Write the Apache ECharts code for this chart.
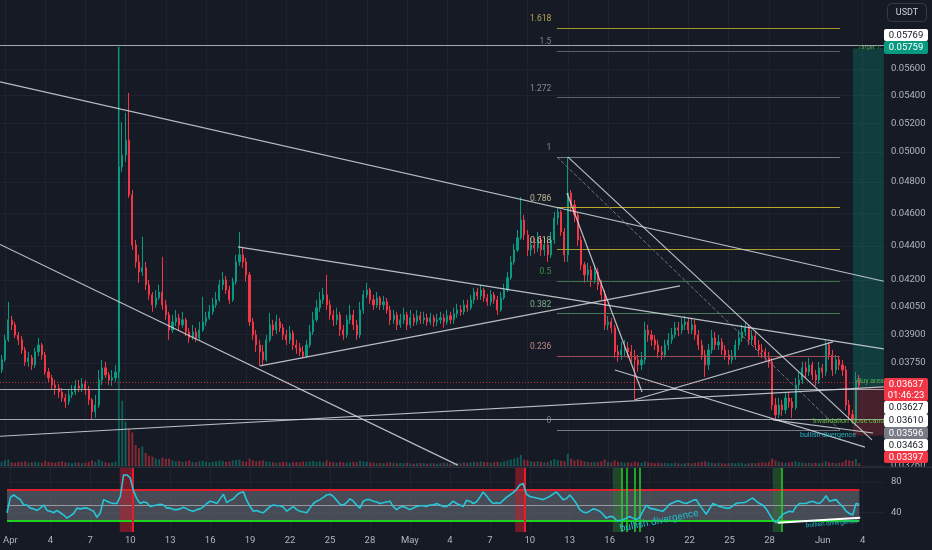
<!DOCTYPE html>
<html><head><meta charset="utf-8">
<script src="https://cdn.jsdelivr.net/npm/echarts@6/dist/echarts.min.js"></script>
<style>html,body{margin:0;padding:0;background:#161a25;}#c{width:932px;height:550px;}</style>
</head><body><div id="c"></div>
<script>
// ---------------- DATA ----------------
const startTime = '2024-03-31T18:00:00Z';   // first 6h candle
const barHours = 6;
const firstOpen = 0.03714;
const closes = [
0.03766,0.03870,0.03977,0.03950,0.03896,0.03870,0.03817,0.03756,0.03776,0.03740,
0.03807,0.03843,0.03791,0.03704,0.03674,0.03639,0.03624,0.03604,0.03575,0.03556,
0.03590,0.03604,0.03634,0.03624,0.03644,0.03614,0.03566,0.03508,0.03541,0.03664,
0.03725,0.03689,0.03664,0.03674,0.03704,0.04899,0.04980,0.05082,0.04716,0.04405,
0.04304,0.04246,0.04270,0.04172,0.04115,0.04059,0.04098,0.04131,0.04059,0.04004,
0.03922,0.03966,0.03988,0.03950,0.03977,0.03912,0.03880,0.03912,0.03880,0.03922,
0.03966,0.03988,0.04021,0.04059,0.04087,0.04172,0.04200,0.04142,0.04087,0.04189,
0.04304,0.04346,0.04304,0.04229,0.03966,0.03896,0.03843,0.03807,0.03766,0.03870,
0.03950,0.03922,0.03966,0.03934,0.03896,0.03870,0.03906,0.03843,0.03828,0.03807,
0.03786,0.03843,0.03912,0.03977,0.04043,0.04087,0.04115,0.04059,0.04004,0.03977,
0.04004,0.03922,0.03896,0.03977,0.04004,0.03950,0.03896,0.04031,0.04115,0.04142,
0.04087,0.04059,0.04098,0.04059,0.04076,0.04031,0.03977,0.04004,0.03950,0.03977,
0.04004,0.03950,0.03988,0.03966,0.03999,0.03977,0.03988,0.03966,0.03988,0.03966,
0.03977,0.03988,0.03966,0.03999,0.03977,0.04010,0.04031,0.04021,0.04059,0.04043,
0.04087,0.04131,0.04109,0.04142,0.04098,0.04076,0.04115,0.04087,0.04031,0.04098,
0.04142,0.04212,0.04304,0.04375,0.04448,0.04558,0.04466,0.04375,0.04405,0.04387,
0.04435,0.04375,0.04405,0.04346,0.04435,0.04570,0.04608,0.04484,0.04346,0.04729,
0.04652,0.04589,0.04435,0.04287,0.04229,0.04257,0.04200,0.04246,0.04172,0.04115,
0.03950,0.03966,0.03934,0.03807,0.03791,0.03817,0.03828,0.03807,0.03786,0.03766,
0.03740,0.03766,0.03922,0.03896,0.03870,0.03843,0.03807,0.03791,0.03843,0.03870,
0.03896,0.03934,0.03922,0.03950,0.03966,0.03922,0.03950,0.03896,0.03843,0.03791,
0.03740,0.03817,0.03880,0.03843,0.03859,0.03817,0.03791,0.03766,0.03786,0.03843,
0.03880,0.03912,0.03934,0.03870,0.03890,0.03843,0.03817,0.03807,0.03776,0.03756,
0.03541,0.03494,0.03541,0.03517,0.03575,0.03556,0.03527,0.03639,0.03664,0.03725,
0.03704,0.03740,0.03689,0.03664,0.03725,0.03704,0.03843,0.03791,0.03714,0.03766,
0.03740,0.03714,0.03541,0.03494,0.03470,0.03664,0.03637
];
const highs = [
0.03791,0.03896,0.04076,0.03999,0.03966,0.03912,0.03890,0.03833,0.03807,0.03791,
0.03828,0.03880,0.03854,0.03807,0.03725,0.03689,0.03664,0.03644,0.03624,0.03595,
0.03614,0.03639,0.03664,0.03664,0.03674,0.03664,0.03634,0.03575,0.03590,0.03714,
0.03766,0.03756,0.03704,0.03714,0.03740,0.05769,0.05209,0.05274,0.05420,0.04748,
0.04435,0.04346,0.04454,0.04304,0.04200,0.04131,0.04142,0.04172,0.04334,0.04087,
0.04021,0.04004,0.04031,0.04010,0.04021,0.03988,0.03934,0.03950,0.03934,0.03966,
0.04104,0.04021,0.04059,0.04098,0.04131,0.04200,0.04246,0.04223,0.04166,0.04212,
0.04346,0.04484,0.04387,0.04328,0.04246,0.03988,0.03922,0.03870,0.03843,0.03896,
0.04015,0.03977,0.04004,0.03988,0.03955,0.03922,0.03944,0.03922,0.03870,0.03854,
0.03838,0.03870,0.03950,0.04021,0.04087,0.04131,0.04155,0.04229,0.04087,0.04031,
0.04043,0.04021,0.03950,0.04004,0.04059,0.04031,0.03977,0.04076,0.04142,0.04183,
0.04155,0.04115,0.04131,0.04109,0.04109,0.04098,0.04054,0.04031,0.04021,0.04010,
0.04043,0.04021,0.04031,0.04010,0.04031,0.04021,0.04021,0.04010,0.04015,0.04004,
0.04010,0.04021,0.04010,0.04031,0.04021,0.04043,0.04065,0.04059,0.04087,0.04087,
0.04115,0.04155,0.04155,0.04172,0.04155,0.04120,0.04142,0.04131,0.04109,0.04131,
0.04178,0.04246,0.04340,0.04411,0.04496,0.04703,0.04589,0.04496,0.04448,0.04448,
0.04484,0.04460,0.04448,0.04435,0.04484,0.04608,0.04640,0.04620,0.04508,0.04967,
0.04748,0.04684,0.04608,0.04460,0.04304,0.04299,0.04281,0.04287,0.04270,0.04200,
0.04142,0.03999,0.03988,0.03950,0.03843,0.03859,0.03870,0.03859,0.03843,0.03817,
0.03791,0.03807,0.03966,0.03950,0.03922,0.03896,0.03870,0.03838,0.03870,0.03906,
0.03934,0.03966,0.03966,0.03988,0.03999,0.03988,0.03988,0.03977,0.03922,0.03870,
0.03817,0.03849,0.03922,0.03912,0.03896,0.03880,0.03843,0.03817,0.03817,0.03870,
0.03922,0.03950,0.03966,0.03950,0.03922,0.03912,0.03870,0.03849,0.03828,0.03807,
0.03776,0.03575,0.03575,0.03566,0.03604,0.03604,0.03575,0.03674,0.03704,0.03756,
0.03756,0.03776,0.03756,0.03714,0.03756,0.03745,0.03870,0.03859,0.03817,0.03791,
0.03786,0.03766,0.03735,0.03566,0.03517,0.03704,0.03689
];
const lows = [
0.03699,0.03756,0.03859,0.03922,0.03880,0.03843,0.03797,0.03735,0.03730,0.03714,
0.03725,0.03786,0.03766,0.03689,0.03654,0.03614,0.03590,0.03575,0.03556,0.03527,
0.03541,0.03575,0.03590,0.03604,0.03604,0.03590,0.03541,0.03470,0.03479,0.03527,
0.03639,0.03674,0.03639,0.03634,0.03654,0.03674,0.04866,0.04933,0.04697,0.04375,
0.04270,0.04183,0.04223,0.04142,0.04087,0.04021,0.04043,0.04087,0.04031,0.03977,
0.03870,0.03906,0.03944,0.03922,0.03934,0.03890,0.03854,0.03870,0.03859,0.03870,
0.03912,0.03944,0.03977,0.04004,0.04043,0.04076,0.04142,0.04120,0.04065,0.04076,
0.04172,0.04281,0.04270,0.04189,0.03944,0.03870,0.03807,0.03735,0.03740,0.03756,
0.03859,0.03890,0.03901,0.03912,0.03870,0.03843,0.03849,0.03817,0.03797,0.03786,
0.03776,0.03776,0.03828,0.03896,0.03966,0.04021,0.04065,0.04031,0.03977,0.03944,
0.03950,0.03890,0.03870,0.03880,0.03955,0.03922,0.03870,0.03880,0.04010,0.04098,
0.04065,0.04031,0.04043,0.04031,0.04031,0.04010,0.03950,0.03955,0.03922,0.03934,
0.03955,0.03922,0.03934,0.03944,0.03950,0.03955,0.03955,0.03944,0.03950,0.03939,
0.03944,0.03955,0.03934,0.03950,0.03955,0.03955,0.03988,0.03999,0.04004,0.04021,
0.04031,0.04065,0.04087,0.04087,0.04076,0.04054,0.04054,0.04065,0.04004,0.04021,
0.04087,0.04131,0.04200,0.04287,0.04363,0.04435,0.04435,0.04340,0.04340,0.04352,
0.04363,0.04340,0.04340,0.04304,0.04328,0.04411,0.04527,0.04460,0.04304,0.04304,
0.04608,0.04545,0.04399,0.04257,0.04183,0.04189,0.04160,0.04178,0.04142,0.04087,
0.03922,0.03922,0.03906,0.03776,0.03756,0.03766,0.03786,0.03776,0.03756,0.03566,
0.03704,0.03714,0.03745,0.03859,0.03838,0.03817,0.03776,0.03766,0.03776,0.03817,
0.03849,0.03880,0.03890,0.03901,0.03922,0.03901,0.03901,0.03870,0.03817,0.03766,
0.03679,0.03714,0.03797,0.03817,0.03817,0.03791,0.03766,0.03740,0.03745,0.03766,
0.03817,0.03859,0.03890,0.03843,0.03843,0.03817,0.03786,0.03776,0.03756,0.03725,
0.03517,0.03470,0.03479,0.03489,0.03498,0.03527,0.03479,0.03517,0.03614,0.03644,
0.03674,0.03684,0.03664,0.03634,0.03644,0.03674,0.03684,0.03766,0.03684,0.03694,
0.03714,0.03684,0.03517,0.03470,0.03451,0.03441,0.03624
];
const volumes = [
9,12,14,8,7,9,8,10,7,8,
9,8,7,11,9,8,7,9,10,8,
7,6,8,7,6,7,9,12,9,14,
10,8,7,8,10,900,140,95,80,72,
45,38,42,28,22,20,16,14,18,15,
16,12,10,11,9,10,12,9,8,10,
11,9,8,9,10,12,11,9,10,12,
13,14,10,9,16,12,10,11,12,10,
9,8,7,8,9,8,7,8,9,8,
10,9,10,11,9,10,8,12,9,8,
7,9,8,7,8,9,8,11,10,9,
8,7,6,7,6,7,8,7,6,7,
6,7,6,5,6,7,6,5,6,6,
5,6,7,6,5,6,7,6,8,7,
8,9,8,10,9,8,7,8,9,8,
10,12,14,16,18,24,14,12,10,9,
10,9,8,9,12,15,13,11,10,26,
16,12,14,12,10,9,8,9,8,10,
14,9,8,12,9,8,7,8,7,10,
8,7,10,8,7,6,7,6,7,6,
6,7,6,5,6,7,6,7,8,9,
10,8,7,6,7,6,5,6,7,6,
7,6,5,6,7,6,7,8,7,9,
16,12,9,8,7,8,9,10,8,7,
6,7,6,7,6,7,10,8,7,6,
7,8,13,12,11,15,6
];
const rsi = [
40,60,63,60,57,50,50,46,45,43,
46,50,43,42,40,43,40,37,33,36,
39,46,45,46,46,44,42,34,40,57,
55,53,52,52,61,89,89,85,68,58,
52,54,53,48,49,50,51,50,46,46,
44,44,45,47,45,43,42,44,45,48,
52,55,54,52,58,64,53,56,58,63,
66,67,56,48,42,43,41,40,44,48,
50,49,49,47,42,45,48,44,42,41,
40,46,52,55,57,60,63,64,61,56,
51,50,53,58,55,50,46,55,57,57,
55,54,52,53,54,55,48,44,47,48,
46,44,46,48,49,49,48,50,50,52,
50,48,48,51,55,52,50,48,56,55,
52,54,60,67,62,56,52,53,52,56,
60,63,66,70,76,78,64,61,60,59,
58,57,59,61,64,67,62,57,58,63,
58,52,44,41,40,42,45,44,42,38,
33,35,35,30,30,31,33,35,33,31,
34,42,50,46,45,44,43,42,46,51,
53,55,55,53,52,54,56,57,50,44,
38,45,52,50,48,47,46,46,49,52,
53,53,54,57,59,55,52,50,45,38,
31,27,33,38,40,42,41,48,52,52,
52,54,55,53,52,56,62,55,56,57,
52,48,42,39,37,52,51
];
const xTickDates = ['2024-04-01','2024-04-04','2024-04-07','2024-04-10','2024-04-13','2024-04-16','2024-04-19','2024-04-22','2024-04-25','2024-04-28',
  '2024-05-01','2024-05-04','2024-05-07','2024-05-10','2024-05-13','2024-05-16','2024-05-19','2024-05-22','2024-05-25','2024-05-28','2024-06-01','2024-06-04'];
const yTickPrices = [0.056,0.054,0.052,0.050,0.048,0.046,0.044,0.042,0.0405,0.039,0.0375,0.0326];
const rsiTicks = [80,40];
const rsiLevels = [70,50,30];

// Fibonacci retracement
const fibRatios = [0,0.236,0.382,0.5,0.618,0.786,1,1.272,1.5,1.618];
const fibTexts = ['0','0.236','0.382','0.5','0.618','0.786','1','1.272','1.5','1.618'];
const fibLow = 0.03422, fibHigh = 0.04967;
const fibFrom = '2024-05-12T04:30:00Z', fibTo = '2024-06-02T07:30:00Z';

// Trend lines: [time1, price1, time2, price2]
const trendLines = [
  ['2024-03-31T15:10:00Z',0.05502,'2024-06-05T14:00:00Z',0.04192],
  ['2024-03-31T15:10:00Z',0.04408,'2024-05-04T19:00:00Z',0.03262],
  ['2024-03-31T15:10:00Z',0.03393,'2024-06-05T14:00:00Z',0.03629],
  ['2024-04-18T09:20:00Z',0.04393,'2024-06-05T14:00:00Z',0.03823],
  ['2024-04-20T00:45:00Z',0.03735,'2024-05-21T09:00:00Z',0.04166],
  ['2024-05-13T00:00:00Z',0.04967,'2024-06-04T16:50:00Z',0.03376],
  ['2024-05-12T22:30:00Z',0.04729,'2024-05-18T13:00:00Z',0.03604],
  ['2024-05-16T12:30:00Z',0.03714,'2024-06-04T04:20:00Z',0.03343],
  ['2024-05-18T00:15:00Z',0.03566,'2024-06-01T19:00:00Z',0.03859],
  ['2024-05-28T07:30:00Z',0.03470,'2024-06-04T18:45:00Z',0.03408]
];
// Horizontal price lines
const hLines = [0.05769,0.05759,0.03627,0.03610,0.03479,0.03463];
const lastPrice = 0.03637;
// Long position tool
const posFrom = '2024-06-03T06:45:00Z';
const posTarget = 0.05759, posEntry = 0.03627, posStop = 0.03397;
// RSI highlight columns [from, to]
const rsiRedCols = [['2024-04-09T05:00:00Z','2024-04-10T04:20:00Z'],['2024-05-08T21:50:00Z','2024-05-09T15:50:00Z']];
const rsiGreenCols = [['2024-05-16T05:20:00Z','2024-05-16T21:35:00Z'],['2024-05-28T05:45:00Z','2024-05-28T21:50:00Z']];
const rsiRedMarks = ['2024-04-10T04:00:00Z','2024-05-09T15:30:00Z'];
const rsiGreenMarks = ['2024-05-16T21:35:00Z','2024-05-17T06:30:00Z','2024-05-17T21:00:00Z','2024-05-18T05:45:00Z','2024-05-28T21:50:00Z'];
const rsiDivLine = ['2024-05-28T14:45:00Z',27,'2024-06-03T19:30:00Z',33.5];
// Axis tags
const priceTags = [['0.05769'],['0.05759'],['0.03637','01:46:23'],['0.03627'],['0.03610'],['0.03596'],['0.03463'],['0.03397']];
const currency = 'USDT';

// ---------------- BUILD ----------------
const DAY = 86400000;
const T0 = Date.parse('2024-04-01T00:00:00Z');
const toD = s => (Date.parse(s) - T0) / DAY;
const LN = Math.log;
const MONTHS = ['Jan','Feb','Mar','Apr','May','Jun','Jul','Aug','Sep','Oct','Nov','Dec'];
const UP = '#089981', DOWN = '#f23645';
const GRIDC = '#1f2330';
const FONT = 'Roboto, "Noto Sans", sans-serif';

const d0 = toD(startTime), step = barHours / 24;
const candleD = closes.map((_, i) => d0 + i * step);
const opens = closes.map((c, i) => i === 0 ? firstOpen : closes[i - 1]);
const candleData = closes.map((c, i) => {
  const o = opens[i];
  const h = Math.max(highs[i], o, c), l = Math.min(lows[i], o, c);
  return [candleD[i], LN(o), LN(c), LN(l), LN(h)];
});
const volData = volumes.map((v, i) => ({value: [candleD[i], v],
  itemStyle: {color: closes[i] >= opens[i] ? 'rgba(8,153,129,0.5)' : 'rgba(242,54,69,0.5)'}}));
const rsiData = rsi.map((r, i) => [candleD[i], r]);
const dLast = candleD[candleD.length - 1];

const xMin = -0.373, xMax = 65.6;
const yMin = LN(0.03258), yMax = LN(0.06153);
const xTicks = xTickDates.map(s => toD(s + 'T00:00:00Z'));
const yTicksLn = yTickPrices.map(LN);
const fmtDate = v => { const dt = new Date(T0 + Math.round(v * DAY)); return dt.getUTCDate() === 1 ? MONTHS[dt.getUTCMonth()] : String(dt.getUTCDate()); };

const fibLineColor = {'0':'#787b86','0.236':'#9c4c55','0.382':'#4a7a58','0.5':'#3b7448','0.618':'#ab9d2a','0.786':'#b8aa2c','1':'#787b86','1.272':'#5d606b','1.5':'#5d606b','1.618':'#a09322'};
const fibTextColor = {'0':'#9598a1','0.236':'#e3a3a3','0.382':'#8fcfa0','0.5':'#4caf50','0.618':'#eadfb4','0.786':'#eadfb4','1':'#a3a6af','1.272':'#a3a6af','1.5':'#86a890','1.618':'#e0c560'};
const fibPrice = r => fibLow + r * (fibHigh - fibLow);
const fibFromD = toD(fibFrom), fibToD = toD(fibTo);

const mainLines = [];
hLines.forEach(p => mainLines.push({yAxis: LN(p), lineStyle: {color: 'rgba(178,181,190,0.7)', width: 1, type: 'solid'}}));
mainLines.push({yAxis: LN(lastPrice), lineStyle: {color: 'rgba(242,54,69,0.75)', width: 1, type: [1, 2]}});
fibRatios.forEach((r, k) => mainLines.push([
  {coord: [fibFromD, LN(fibPrice(r))], lineStyle: {color: fibLineColor[fibTexts[k]], width: 1, type: 'solid'}},
  {coord: [fibToD, LN(fibPrice(r))]}]));
mainLines.push([{coord: [fibFromD, LN(fibHigh)], lineStyle: {color: '#6f7280', width: 1, type: 'dashed'}}, {coord: [fibToD, LN(fibLow)]}]);
trendLines.forEach(t => mainLines.push([
  {coord: [toD(t[0]), LN(t[1])], lineStyle: {color: 'rgba(214,216,223,0.85)', width: 1.2, type: 'solid'}},
  {coord: [toD(t[2]), LN(t[3])]}]));

const rsiLines = [];
rsiLevels.forEach(v => rsiLines.push([
  {coord: [candleD[0], v], lineStyle: v === 70 ? {color: '#e0202e', width: 2, type: 'solid'} : v === 30 ? {color: '#1ed31e', width: 2, type: 'solid'} : {color: '#9598a1', width: 1, type: 'solid'}},
  {coord: [dLast, v]}]));
rsiRedMarks.forEach(s => rsiLines.push({xAxis: toD(s), lineStyle: {color: '#e81c2a', width: 2, type: 'solid'}}));
rsiGreenMarks.forEach(s => rsiLines.push({xAxis: toD(s), lineStyle: {color: '#22d42a', width: 1.5, type: 'solid'}}));
rsiLines.push([{coord: [toD(rsiDivLine[0]), rsiDivLine[1]], lineStyle: {color: '#ffffff', width: 2, type: 'solid'}}, {coord: [toD(rsiDivLine[2]), rsiDivLine[3]]}]);

const rsiAreas = [[{coord: [candleD[0], 70], itemStyle: {color: 'rgba(120,123,134,0.5)'}}, {coord: [dLast, 30]}]];
rsiRedCols.forEach(c => rsiAreas.push([{xAxis: toD(c[0]), itemStyle: {color: 'rgba(190,30,45,0.55)'}}, {xAxis: toD(c[1])}]));
rsiGreenCols.forEach(c => rsiAreas.push([{xAxis: toD(c[0]), itemStyle: {color: 'rgba(46,125,50,0.45)'}}, {xAxis: toD(c[1])}]));

// graphic: axis tags, currency button, notes
const tagBoxes = [
  {y: 29, h: 12, bg: '#ffffff', fg: '#131722'},
  {y: 41, h: 13, bg: '#089981', fg: '#ffffff'},
  {y: 378, h: 23, bg: '#f23645', fg: '#ffffff'},
  {y: 401, h: 13, bg: '#ffffff', fg: '#131722'},
  {y: 414, h: 13, bg: '#ffffff', fg: '#131722'},
  {y: 427, h: 12, bg: '#787b86', fg: '#ffffff'},
  {y: 439, h: 12, bg: '#ffffff', fg: '#131722'},
  {y: 451, h: 12, bg: '#f23645', fg: '#ffffff'}
];
const graphic = [
  {type: 'rect', shape: {x: 0, y: 466.5, width: 932, height: 1.5}, style: {fill: '#2a2e39'}, z: 50}
];
priceTags.forEach((t, k) => {
  const b = tagBoxes[k];
  graphic.push({type: 'rect', shape: {x: 884, y: b.y, width: 44, height: b.h, r: 2}, style: {fill: b.bg}, z: 100});
  graphic.push({type: 'text', x: 906, y: b.y + b.h / 2 + 0.5, z: 101,
    style: {text: t.join('\n'), fill: b.fg, font: '9.5px ' + FONT, align: 'center', verticalAlign: 'middle', textAlign: 'center', textVerticalAlign: 'middle', lineHeight: 11}});
});
graphic.push({type: 'rect', shape: {x: 887.5, y: 3.5, width: 39, height: 18, r: 4}, style: {fill: '#161a25', stroke: '#363a45', lineWidth: 1}, z: 100});
graphic.push({type: 'text', x: 907, y: 12.5, z: 101, style: {text: currency, fill: '#d1d4dc', font: '9px ' + FONT, align: 'center', verticalAlign: 'middle', textAlign: 'center', textVerticalAlign: 'middle'}});
const notes = [
  {text: 'Target 1:', x: 858, y: 47, size: 6, color: '#43a047', rot: 0},
  {text: 'Buy area', x: 857, y: 381, size: 7, color: '#4caf50', rot: 0},
  {text: 'Invalidation close candle -', x: 813, y: 421, size: 7, color: '#6cbf4a', rot: 0},
  {text: 'bullish divergence', x: 800, y: 435, size: 7, color: '#2ab3c0', rot: 0},
  {text: 'bullish divergence', x: 621, y: 534, size: 10, color: '#22b8c8', rot: 0.2},
  {text: 'bullish divergence', x: 806, y: 529, size: 6.5, color: '#22b8c8', rot: 0.08}
];
notes.forEach(n => graphic.push({type: 'text', x: n.x, y: n.y, rotation: n.rot, z: 60,
  style: {text: n.text, fill: n.color, font: n.size + 'px ' + FONT, align: 'left', verticalAlign: n.rot ? 'bottom' : 'middle', textAlign: 'left', textVerticalAlign: n.rot ? 'bottom' : 'middle'}}));

const chart = echarts.init(document.getElementById('c'), null, {renderer: 'canvas', width: 932, height: 550});
chart.setOption({
  animation: false,
  backgroundColor: '#161a25',
  grid: [
    {left: 0, right: 48, top: 0, height: 466},
    {left: 0, right: 48, top: 468, height: 64}
  ],
  xAxis: [
    {type: 'value', gridIndex: 0, min: xMin, max: xMax, axisLine: {show: false},
      axisTick: {show: false, customValues: xTicks}, axisLabel: {show: false, customValues: xTicks},
      splitLine: {show: true, lineStyle: {color: GRIDC, width: 1}}},
    {type: 'value', gridIndex: 1, min: xMin, max: xMax, axisLine: {show: false},
      axisTick: {show: false, customValues: xTicks},
      axisLabel: {show: true, customValues: xTicks, formatter: fmtDate, color: '#b2b5be', fontSize: 9.5, fontFamily: FONT, margin: 4},
      splitLine: {show: true, lineStyle: {color: GRIDC, width: 1}}}
  ],
  yAxis: [
    {type: 'value', gridIndex: 0, position: 'right', min: yMin, max: yMax, axisLine: {show: false},
      axisTick: {show: false, customValues: yTicksLn},
      axisLabel: {customValues: yTicksLn, formatter: v => Math.exp(v).toFixed(5), color: '#b2b5be', fontSize: 9.5, fontFamily: FONT, margin: 7},
      splitLine: {show: true, lineStyle: {color: GRIDC, width: 1}}},
    {type: 'value', gridIndex: 0, position: 'left', min: 0, max: 1000, show: false, splitLine: {show: false}},
    {type: 'value', gridIndex: 1, position: 'right', min: 15, max: 98, axisLine: {show: false},
      axisTick: {show: false, customValues: rsiTicks},
      axisLabel: {customValues: rsiTicks, color: '#b2b5be', fontSize: 9.5, fontFamily: FONT, margin: 7},
      splitLine: {show: true, lineStyle: {color: GRIDC, width: 1}}}
  ],
  series: [
    {type: 'bar', name: 'volume', xAxisIndex: 0, yAxisIndex: 1, data: volData, barWidth: 2, silent: true, z: 1},
    {type: 'candlestick', name: 'price', xAxisIndex: 0, yAxisIndex: 0, data: candleData, barWidth: 1.6, z: 3,
      itemStyle: {color: UP, color0: DOWN, borderColor: UP, borderColor0: DOWN, borderWidth: 1},
      markArea: {silent: true, data: [
        [{coord: [toD(posFrom), LN(posTarget)], itemStyle: {color: 'rgba(8,153,129,0.28)'}}, {coord: [xMax - 0.01, LN(posEntry)]}],
        [{coord: [toD(posFrom), LN(posEntry)], itemStyle: {color: 'rgba(242,54,69,0.22)'}}, {coord: [xMax - 0.01, LN(posStop)]}]
      ]},
      markLine: {silent: true, symbol: ['none', 'none'], label: {show: false}, data: mainLines}},
    {type: 'scatter', name: 'fib', xAxisIndex: 0, yAxisIndex: 0, symbolSize: 1, silent: true, z: 4,
      itemStyle: {color: 'rgba(0,0,0,0)'},
      data: fibRatios.map((r, k) => ({value: [fibFromD, LN(fibPrice(r))], label: {color: fibTextColor[fibTexts[k]]}})),
      label: {show: true, position: 'left', distance: 5, offset: [0, -9], formatter: p => fibTexts[p.dataIndex], fontSize: 8.5, fontFamily: FONT}},
    {type: 'line', name: 'RSI', xAxisIndex: 1, yAxisIndex: 2, data: rsiData, symbol: 'none', z: 5,
      lineStyle: {color: '#26c6da', width: 1.6},
      markArea: {silent: true, data: rsiAreas},
      markLine: {silent: true, symbol: ['none', 'none'], label: {show: false}, data: rsiLines}}
  ],
  graphic: graphic
});
</script></body></html>
